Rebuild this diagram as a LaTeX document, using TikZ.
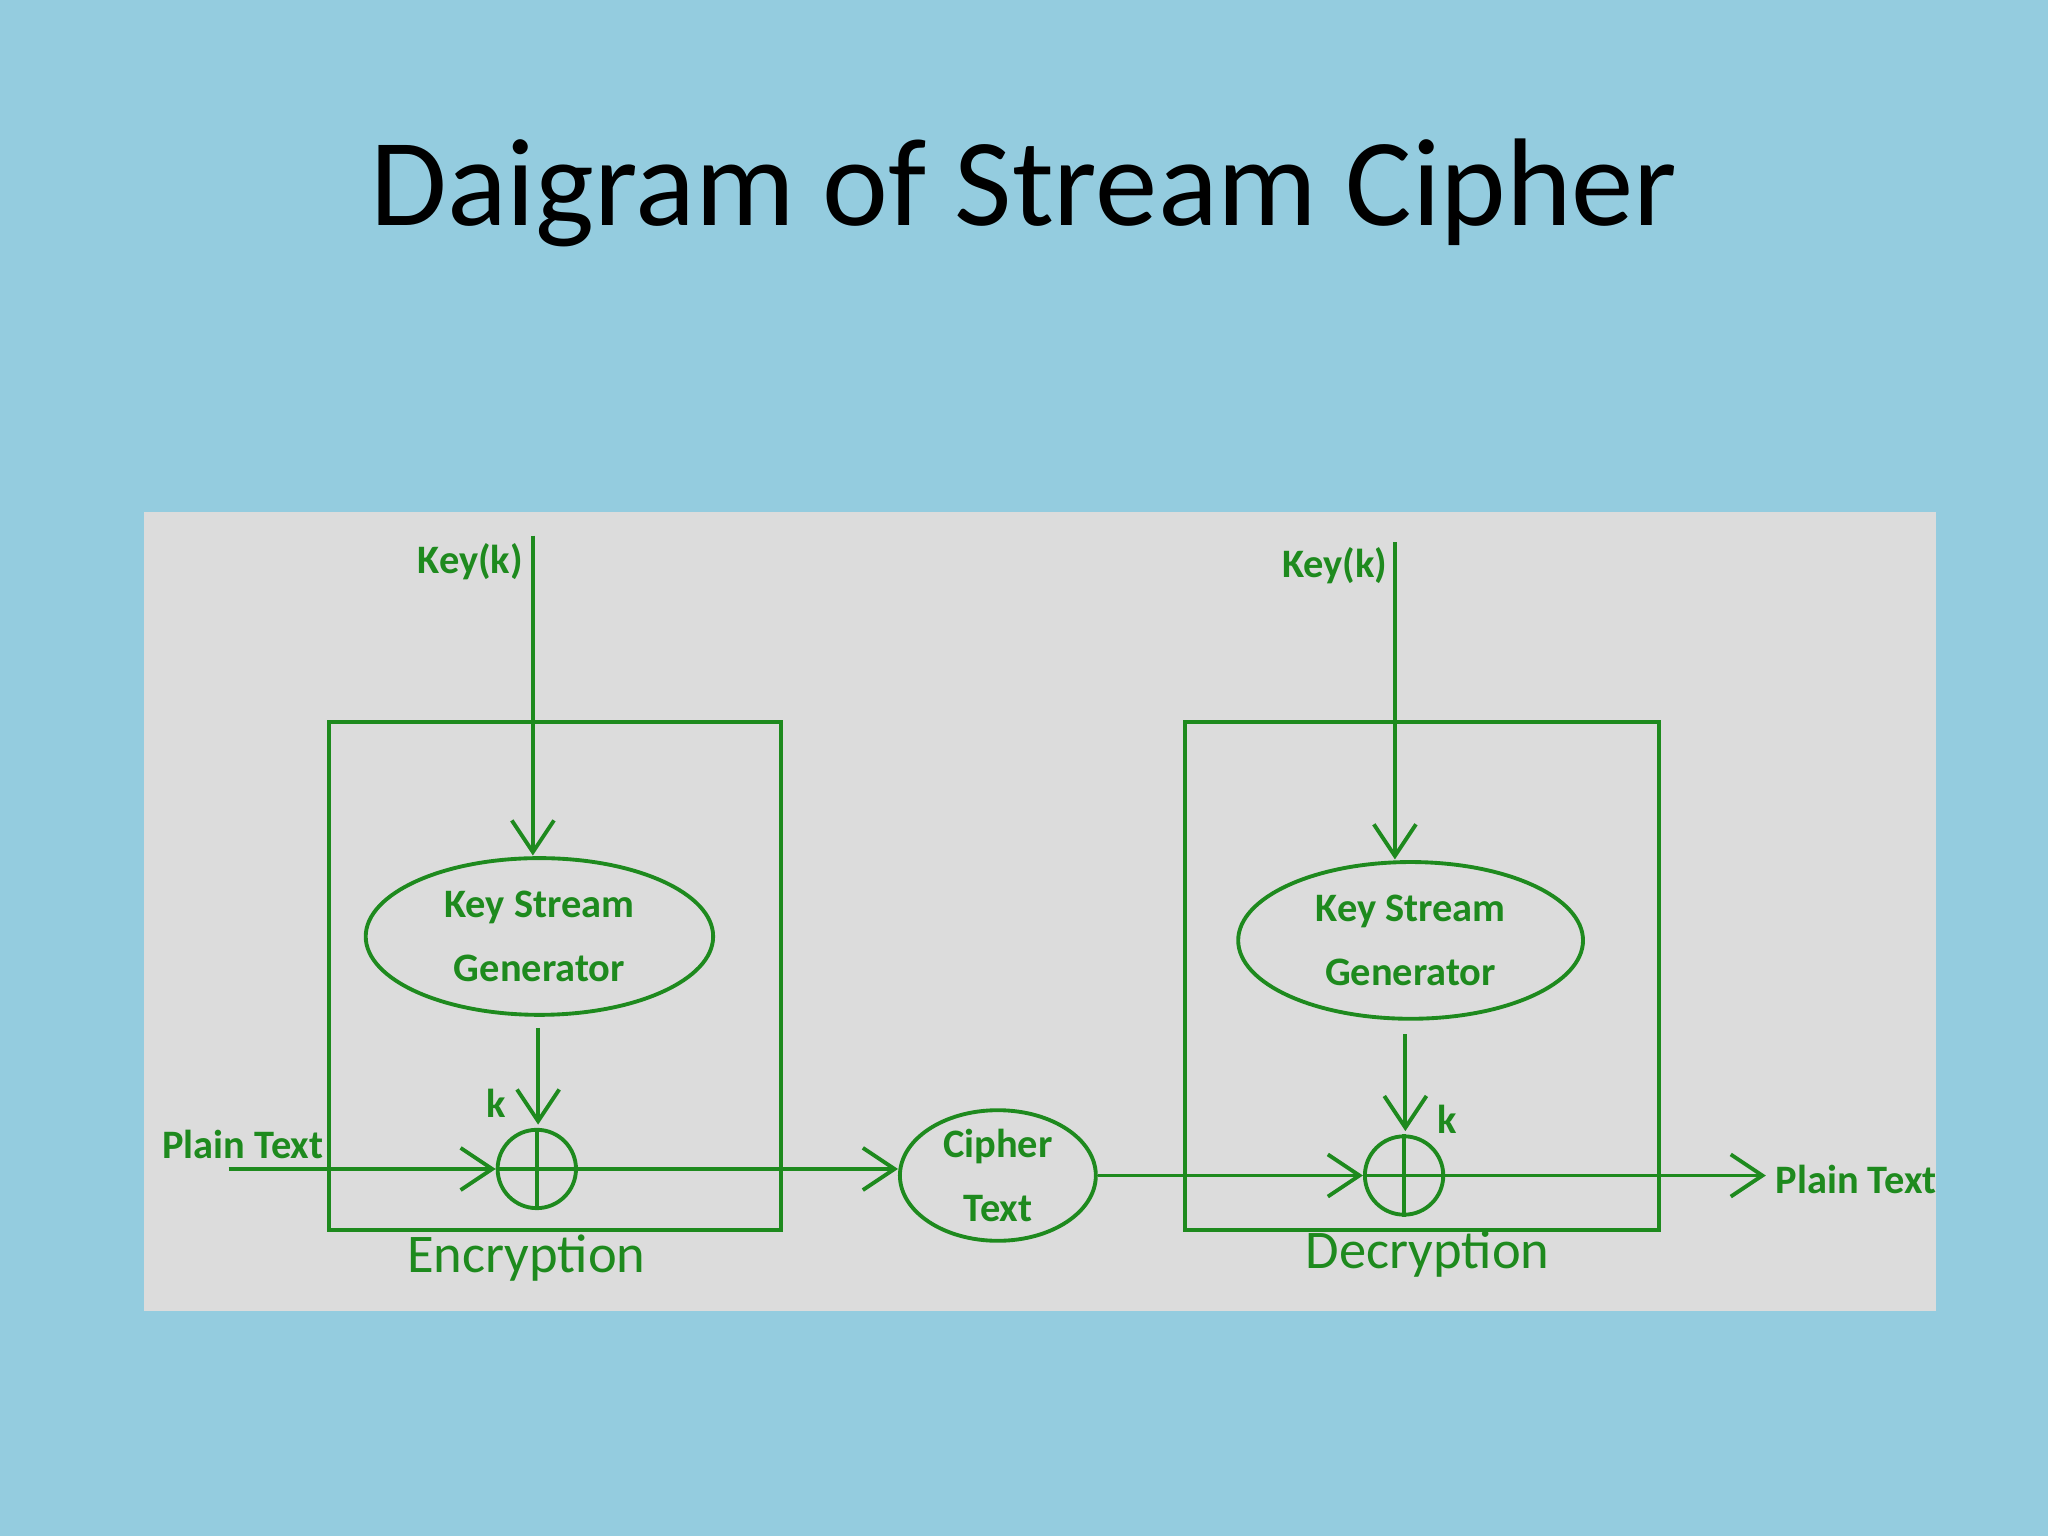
\documentclass[tikz,border=0pt]{standalone}
\usepackage{fontspec}
\setmainfont{Carlito}
\usetikzlibrary{arrows.meta,shapes.geometric}
\definecolor{bg}{HTML}{94CCDF}
\definecolor{pan}{HTML}{DCDCDC}
\definecolor{gr}{HTML}{1E8A1E}
\begin{document}
\begin{tikzpicture}[x=0.013061cm,y=-0.013061cm,
  ln/.style={draw=gr,line width=1.1pt},
  ar/.style={ln,-{Straight Barb[length=9pt,width=12pt]}},
  lb/.style={text=gr,font=\bfseries\fontsize{11.5}{14}\selectfont,inner sep=0pt},
  boxcap/.style={text=gr,font=\fontsize{15.5}{19}\selectfont,inner sep=0pt}]
\fill[bg] (0,0) rectangle (1568,1176);
\useasboundingbox (0,0) rectangle (1568,1176);
\node[font=\fontsize{35.5}{42}\selectfont,inner sep=0pt] (title) at (784,148) {Daigram of Stream Cipher};
\fill[pan] (110,392) rectangle (1482,1004);
\begin{scope}
\clip (110,392) rectangle (1482,1004);
\node[ln,rectangle,minimum width=346*0.013061cm,minimum height=389*0.013061cm] (enc) at (425,747.5) {};
\node[ln,rectangle,minimum width=363*0.013061cm,minimum height=389*0.013061cm] (dec) at (1088.5,747.5) {};
\node[ln,ellipse,minimum width=266*0.013061cm,minimum height=120*0.013061cm,lb,align=center,inner sep=0pt] (ksg1) at (413,717) {Key Stream\\[4pt]Generator};
\node[ln,ellipse,minimum width=264*0.013061cm,minimum height=120*0.013061cm,lb,align=center,inner sep=0pt] (ksg2) at (1080,720) {Key Stream\\[4pt]Generator};
\node[ln,circle,minimum size=60*0.013061cm,inner sep=0pt] (x1) at (411,895) {};
\draw[ln] (x1.north) -- (x1.south) (x1.west) -- (x1.east);
\node[ln,circle,minimum size=60*0.013061cm,inner sep=0pt] (x2) at (1075,900) {};
\draw[ln] (x2.north) -- (x2.south) (x2.west) -- (x2.east);
\node[ln,ellipse,minimum width=150*0.013061cm,minimum height=100*0.013061cm,lb,align=center,inner sep=0pt] (ct) at (764,900) {Cipher\\[4pt]Text};
\coordinate (k1s) at (408,410);
\coordinate (k2s) at (1068,415);
\coordinate (p1s) at (175,895);
\coordinate (p2e) at (1352,900);
\draw[ar] (k1s) -- (408,655);
\draw[ar] (k2s) -- (1068,658);
\draw[ar] (412,787) -- (412,861);
\draw[ar] (1076,792) -- (1076,866);
\draw[ar] (p1s) -- (x1.west);
\draw[ar] (x1.east) -- (ct.west |- x1.east);
\draw[ar] (ct.east) -- (x2.west);
\draw[ar] (x2.east) -- (p2e);
\node[lb] (kl1) at (360,430) {Key(k)};
\node[lb] (kl2) at (1022,433) {Key(k)};
\node[lb] (k1) at (380,845) {k};
\node[lb] (k2) at (1108,857) {k};
\node[lb] (pt1) at (186,876) {Plain Text};
\node[lb,anchor=west] (pt2) at (1359,903) {Plain Text};
\node[boxcap] (el) at (403,963) {Encryption};
\node[boxcap] (dl) at (1093,960) {Decryption};
\end{scope}
\end{tikzpicture}
\end{document}
